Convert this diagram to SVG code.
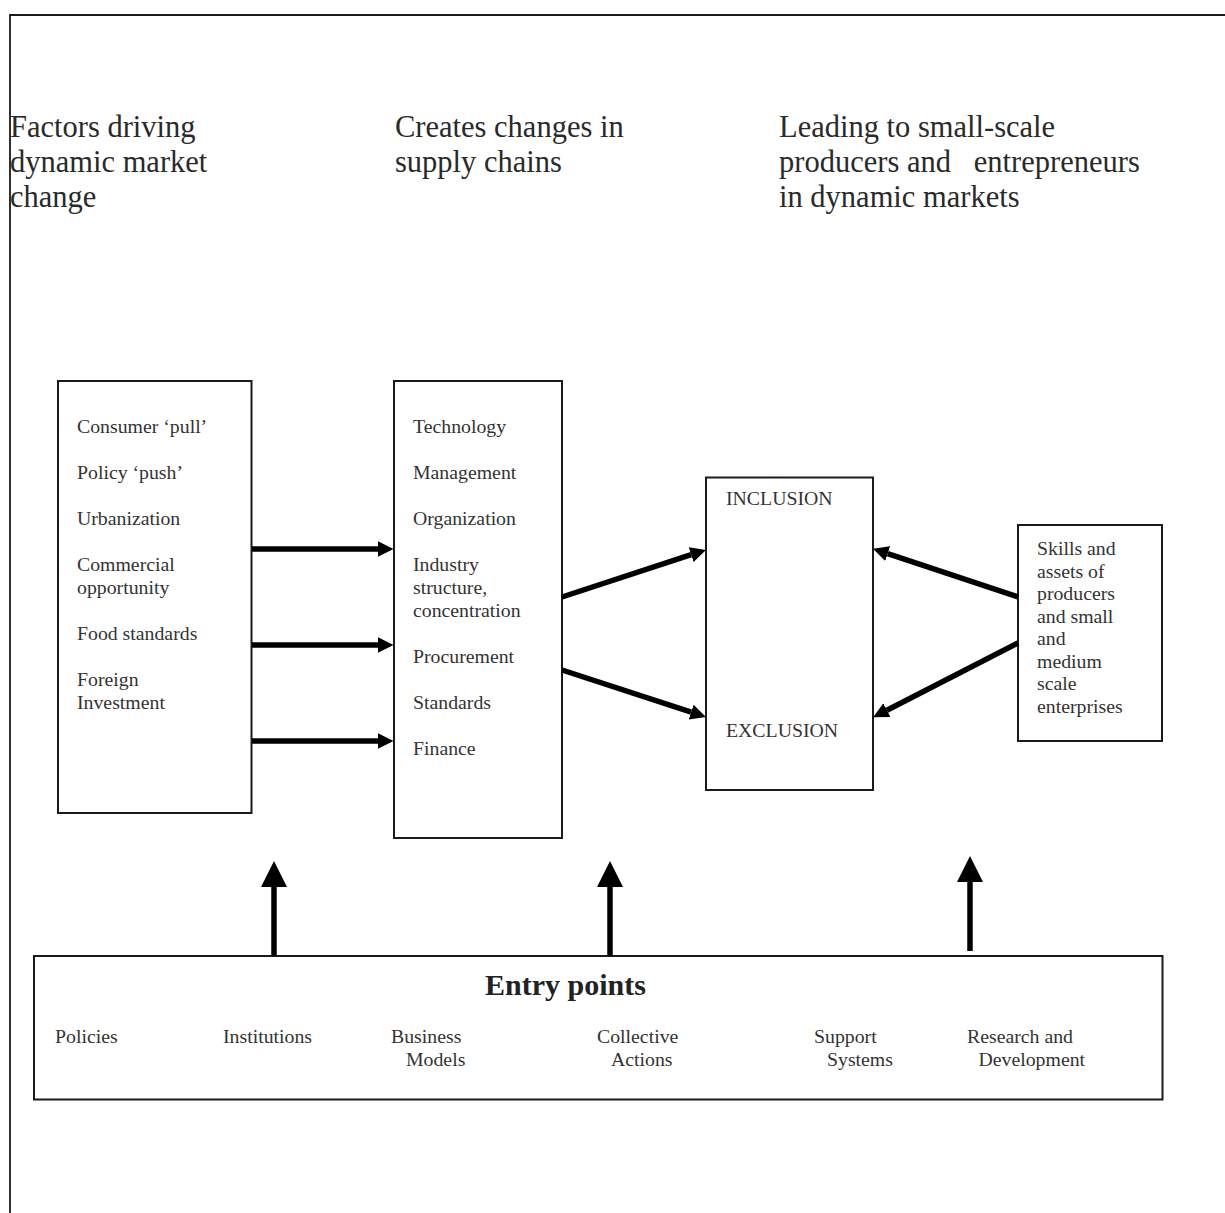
<svg xmlns="http://www.w3.org/2000/svg" width="1225" height="1213" viewBox="0 0 1225 1213">
<defs>
<style>
text{font-family:"Liberation Serif","Times New Roman",serif;fill:#333}
.hd{font-size:30.5px;fill:#2a2a2a}
.it{font-size:19.8px}
.bd{font-size:30px;font-weight:bold;fill:#222}
.box{fill:#fff;stroke:#1a1a1a;stroke-width:2}
.ar{stroke:#000;stroke-width:5.5;fill:none}
</style>
<marker id="hs" markerUnits="userSpaceOnUse" markerWidth="16" markerHeight="16" refX="0" refY="7.75" orient="auto" viewBox="0 0 16 16">
<path d="M0,0 L15.5,7.75 L0,15.5 z" fill="#000"/>
</marker>
<marker id="hb" markerUnits="userSpaceOnUse" markerWidth="27" markerHeight="27" refX="0" refY="13" orient="auto" viewBox="0 0 27 27">
<path d="M0,0 L26,13 L0,26 z" fill="#000"/>
</marker>
</defs>
<rect width="1225" height="1213" fill="#fff"/>
<path d="M10,1213 V15 H1225" fill="none" stroke="#1a1a1a" stroke-width="1.8"/>

<g id="headers">
<text class="hd"><tspan x="10" y="137">Factors driving</tspan><tspan x="10" y="172">dynamic market</tspan><tspan x="10" y="207">change</tspan></text>
<text class="hd"><tspan x="395" y="137">Creates changes in</tspan><tspan x="395" y="172">supply chains</tspan></text>
<text class="hd" style="white-space:pre"><tspan x="779" y="137">Leading to small-scale</tspan><tspan x="779" y="172">producers and   entrepreneurs</tspan><tspan x="779" y="207">in dynamic markets</tspan></text>
</g>

<g id="drivers">
<rect class="box" x="58" y="381" width="193.5" height="432"/>
<text class="it"><tspan x="77" y="433">Consumer ‘pull’</tspan><tspan x="77" y="479">Policy ‘push’</tspan><tspan x="77" y="525">Urbanization</tspan><tspan x="77" y="571">Commercial</tspan><tspan x="77" y="594">opportunity</tspan><tspan x="77" y="640">Food standards</tspan><tspan x="77" y="686">Foreign</tspan><tspan x="77" y="709">Investment</tspan></text>
</g>

<g id="supply-chain">
<rect class="box" x="394" y="381" width="168" height="457"/>
<text class="it"><tspan x="413" y="433">Technology</tspan><tspan x="413" y="479">Management</tspan><tspan x="413" y="525">Organization</tspan><tspan x="413" y="571">Industry</tspan><tspan x="413" y="594">structure,</tspan><tspan x="413" y="617">concentration</tspan><tspan x="413" y="663">Procurement</tspan><tspan x="413" y="709">Standards</tspan><tspan x="413" y="755">Finance</tspan></text>
</g>

<g id="outcome">
<rect class="box" x="706" y="477.5" width="167" height="312.5"/>
<text class="it" x="726" y="505">INCLUSION</text>
<text class="it" x="726" y="737">EXCLUSION</text>
</g>

<g id="skills">
<rect class="box" x="1018" y="525" width="144" height="216"/>
<text class="it"><tspan x="1037" y="555">Skills and</tspan><tspan x="1037" y="577.5">assets of</tspan><tspan x="1037" y="600">producers</tspan><tspan x="1037" y="622.5">and small</tspan><tspan x="1037" y="645">and</tspan><tspan x="1037" y="667.5">medium</tspan><tspan x="1037" y="690">scale</tspan><tspan x="1037" y="712.5">enterprises</tspan></text>
</g>

<g id="entry-points">
<rect class="box" x="34" y="956" width="1128.5" height="143.5"/>
<text class="bd" x="485" y="995">Entry points</text>
<text class="it" x="55" y="1043">Policies</text>
<text class="it" x="223" y="1043">Institutions</text>
<text class="it"><tspan x="391" y="1043">Business</tspan><tspan x="406" y="1066">Models</tspan></text>
<text class="it"><tspan x="597" y="1043">Collective</tspan><tspan x="611" y="1066">Actions</tspan></text>
<text class="it"><tspan x="814" y="1043">Support</tspan><tspan x="827" y="1066">Systems</tspan></text>
<text class="it"><tspan x="967" y="1043">Research and</tspan><tspan x="978.5" y="1066">Development</tspan></text>
</g>

<g id="connectors">
<line class="ar" x1="252" y1="549" x2="378" y2="549" marker-end="url(#hs)"/>
<line class="ar" x1="252" y1="645" x2="378" y2="645" marker-end="url(#hs)"/>
<line class="ar" x1="252" y1="741" x2="378" y2="741" marker-end="url(#hs)"/>
<line class="ar" x1="562" y1="597" x2="691.2" y2="554.7" marker-end="url(#hs)"/>
<line class="ar" x1="562" y1="670" x2="691.2" y2="712.1" marker-end="url(#hs)"/>
<line class="ar" x1="1018" y1="597" x2="887.7" y2="553.7" marker-end="url(#hs)"/>
<line class="ar" x1="1018" y1="643" x2="886.9" y2="710.2" marker-end="url(#hs)"/>
<line class="ar" x1="274" y1="956" x2="274" y2="887" marker-end="url(#hb)"/>
<line class="ar" x1="610" y1="956" x2="610" y2="887" marker-end="url(#hb)"/>
<line class="ar" x1="970" y1="951" x2="970" y2="882" marker-end="url(#hb)"/>
</g>
</svg>
